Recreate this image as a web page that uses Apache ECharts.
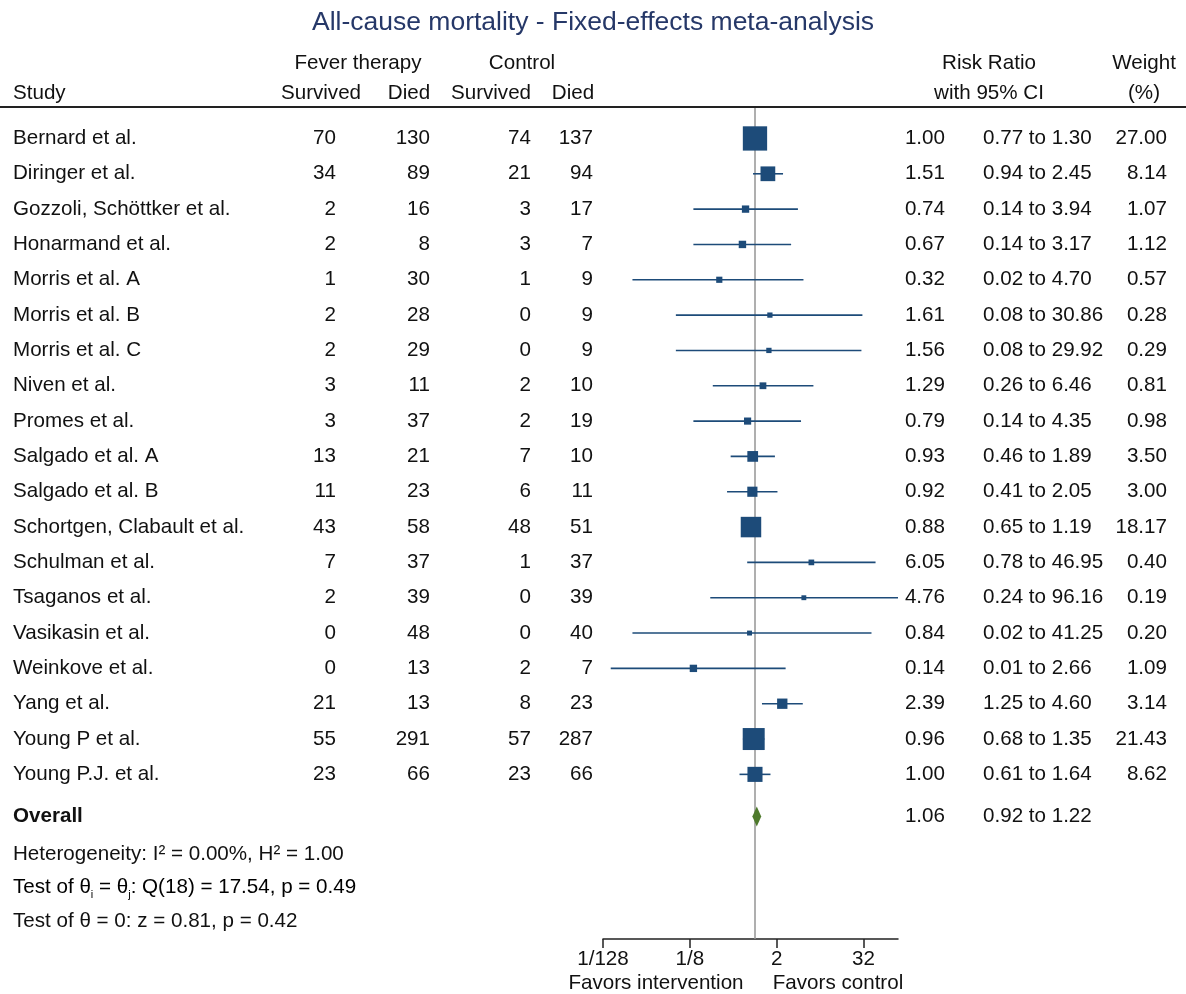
<!DOCTYPE html>
<html>
<head>
<meta charset="utf-8">
<title>All-cause mortality - Fixed-effects meta-analysis</title>
<script src="https://cdn.jsdelivr.net/npm/echarts@6/dist/echarts.min.js"></script>
<style>
  html, body { margin: 0; padding: 0; background: #ffffff; }
  #chart { width: 1186px; height: 994px; }
</style>
</head>
<body>
<div id="chart"></div>
<script>
// ---- Study data ----
const studies = [
  'Bernard et al.', 'Diringer et al.', 'Gozzoli, Schöttker et al.', 'Honarmand et al.',
  'Morris et al. A', 'Morris et al. B', 'Morris et al. C', 'Niven et al.', 'Promes et al.',
  'Salgado et al. A', 'Salgado et al. B', 'Schortgen, Clabault et al.', 'Schulman et al.',
  'Tsaganos et al.', 'Vasikasin et al.', 'Weinkove et al.', 'Yang et al.', 'Young P et al.',
  'Young P.J. et al.'
];
const feverSurvived   = [70, 34, 2, 2, 1, 2, 2, 3, 3, 13, 11, 43, 7, 2, 0, 0, 21, 55, 23];
const feverDied       = [130, 89, 16, 8, 30, 28, 29, 11, 37, 21, 23, 58, 37, 39, 48, 13, 13, 291, 66];
const controlSurvived = [74, 21, 3, 3, 1, 0, 0, 2, 2, 7, 6, 48, 1, 0, 0, 2, 8, 57, 23];
const controlDied     = [137, 94, 17, 7, 9, 9, 9, 10, 19, 10, 11, 51, 37, 39, 40, 7, 23, 287, 66];
const riskRatio = [1.00, 1.51, 0.74, 0.67, 0.32, 1.61, 1.56, 1.29, 0.79, 0.93, 0.92, 0.88, 6.05, 4.76, 0.84, 0.14, 2.39, 0.96, 1.00];
const ciLower   = [0.77, 0.94, 0.14, 0.14, 0.02, 0.08, 0.08, 0.26, 0.14, 0.46, 0.41, 0.65, 0.78, 0.24, 0.02, 0.01, 1.25, 0.68, 0.61];
const ciUpper   = [1.30, 2.45, 3.94, 3.17, 4.70, 30.86, 29.92, 6.46, 4.35, 1.89, 2.05, 1.19, 46.95, 96.16, 41.25, 2.66, 4.60, 1.35, 1.64];
const weightPct = [27.00, 8.14, 1.07, 1.12, 0.57, 0.28, 0.29, 0.81, 0.98, 3.50, 3.00, 18.17, 0.40, 0.19, 0.20, 1.09, 3.14, 21.43, 8.62];

// ---- Pooled estimate and test statistics ----
const overallRR = [1.06, 0.92, 1.22];   // estimate, lower, upper
const heterogeneityText = 'Heterogeneity: I² = 0.00%, H² = 1.00';
const axisTickRatios = ['1/128', '1/8', '2', '32'];

// ---- Layout ----
const FONT = '"Liberation Sans", Arial, Helvetica, sans-serif';
const FS = 20.6;
const TEXT = '#111111';
const BLUE = '#1d4b79';
const GREEN = '#4e7a2c';
const COL = { study: 13, fs: 336, fd: 430, cs: 531, cd: 593, rr: 945, ci: 983, wt: 1167 };
const ROW_OVERALL = studies.length + 0.19;
const ROW_HET = studies.length + 1.27;
const ROW_Q = studies.length + 2.21;
const ROW_Z = studies.length + 3.16;

const log2 = v => Math.log(v) / Math.LN2;
const parseRatio = s => s.indexOf('/') >= 0 ? 1 / Number(s.split('/')[1]) : Number(s);
const tickValues = axisTickRatios.map(s => log2(parseRatio(s)));
const fmt2 = v => v.toFixed(2);

function txt(x, y, text, align, extra) {
  return {
    type: 'text',
    style: Object.assign({
      x: x, y: y, text: text, textAlign: align || 'left', textVerticalAlign: 'middle',
      font: FS + 'px ' + FONT, fill: TEXT
    }, extra || {})
  };
}

function header(x, y, text, align) {
  return {
    type: 'text', x: x, y: y,
    style: { text: text, textAlign: align, textVerticalAlign: 'middle', font: FS + 'px ' + FONT, fill: TEXT }
  };
}

const chart = echarts.init(document.getElementById('chart'), null, { renderer: 'canvas' });

const option = {
  backgroundColor: '#ffffff',
  animation: false,
  title: {
    text: 'All-cause mortality - Fixed-effects meta-analysis',
    left: 'center',
    top: 4,
    textStyle: { fontFamily: FONT, fontSize: 26.5, fontWeight: 'normal', color: '#263868' }
  },
  grid: { left: 603, right: 288, top: 108, bottom: 55, containLabel: false },
  xAxis: {
    type: 'value',
    min: -7,
    max: log2(Math.max.apply(null, ciUpper)),
    interval: 1,
    position: 'bottom',
    axisLine: { show: true, onZero: false, lineStyle: { color: '#222', width: 1.5 } },
    axisTick: { show: true, length: 9, lineStyle: { color: '#222', width: 1.5 }, customValues: tickValues },
    axisLabel: {
      show: true, margin: 10, customValues: tickValues,
      fontFamily: FONT, fontSize: FS, color: TEXT,
      formatter: v => {
        const i = tickValues.findIndex(t => Math.abs(t - v) < 1e-9);
        return i >= 0 ? axisTickRatios[i] : '';
      }
    },
    splitLine: { show: false }
  },
  yAxis: {
    type: 'value', inverse: true, min: -0.862, max: 22.66, show: false,
    splitLine: { show: false }
  },
  graphic: [
    // column headers
    header(358, 63, 'Fever therapy', 'center'),
    header(522, 63, 'Control', 'center'),
    header(989, 63, 'Risk Ratio', 'center'),
    header(1144, 63, 'Weight', 'center'),
    header(COL.study, 93, 'Study', 'left'),
    header(321, 93, 'Survived', 'center'),
    header(409, 93, 'Died', 'center'),
    header(491, 93, 'Survived', 'center'),
    header(573, 93, 'Died', 'center'),
    header(989, 93, 'with 95% CI', 'center'),
    header(1144, 93, '(%)', 'center'),
    // rule under the header
    { type: 'line', shape: { x1: 0, y1: 107, x2: 1186, y2: 107 }, style: { stroke: '#222', lineWidth: 2 } },
    // direction captions under the axis
    header(656, 983, 'Favors intervention', 'center'),
    header(838, 983, 'Favors control', 'center')
  ],
  series: [
    {
      // table columns for each study, plus the line of no effect
      type: 'custom',
      name: 'table',
      clip: false,
      silent: true,
      z: 1,
      data: studies.map((s, i) => [0, i]),
      renderItem: function (params, api) {
        const i = params.dataIndex;
        const y = api.coord([0, i])[1];
        return {
          type: 'group',
          children: [
            txt(COL.study, y, studies[i], 'left'),
            txt(COL.fs, y, String(feverSurvived[i]), 'right'),
            txt(COL.fd, y, String(feverDied[i]), 'right'),
            txt(COL.cs, y, String(controlSurvived[i]), 'right'),
            txt(COL.cd, y, String(controlDied[i]), 'right'),
            txt(COL.rr, y, fmt2(riskRatio[i]), 'right'),
            txt(COL.ci, y, fmt2(ciLower[i]) + ' to ' + fmt2(ciUpper[i]), 'left'),
            txt(COL.wt, y, fmt2(weightPct[i]), 'right')
          ]
        };
      },
      markLine: {
        silent: true,
        symbol: 'none',
        label: { show: false },
        lineStyle: { color: '#959595', width: 1.5, type: 'solid' },
        data: [{ xAxis: 0 }]
      }
    },
    {
      // confidence intervals and weighted boxes
      type: 'custom',
      name: 'studies',
      clip: false,
      silent: true,
      z: 5,
      data: studies.map((s, i) => [log2(riskRatio[i]), i, log2(ciLower[i]), log2(ciUpper[i]), weightPct[i]]),
      encode: { x: [0, 2, 3], y: 1 },
      renderItem: function (params, api) {
        const c = api.coord([api.value(0), api.value(1)]);
        const lo = api.coord([api.value(2), api.value(1)]);
        const hi = api.coord([api.value(3), api.value(1)]);
        const side = 3.1 + 4.08 * Math.sqrt(api.value(4));
        return {
          type: 'group',
          children: [
            { type: 'line', shape: { x1: lo[0], y1: c[1], x2: hi[0], y2: c[1] }, style: { stroke: BLUE, lineWidth: 1.6 } },
            { type: 'rect', shape: { x: c[0] - side / 2, y: c[1] - side / 2, width: side, height: side }, style: { fill: BLUE } }
          ]
        };
      }
    },
    {
      // pooled estimate row and summary statistics
      type: 'custom',
      name: 'overall',
      clip: false,
      silent: true,
      z: 5,
      data: [[log2(overallRR[0]), ROW_OVERALL, log2(overallRR[1]), log2(overallRR[2])]],
      encode: { x: [0, 2, 3], y: 1 },
      renderItem: function (params, api) {
        const c = api.coord([api.value(0), api.value(1)]);
        const lo = api.coord([api.value(2), api.value(1)]);
        const hi = api.coord([api.value(3), api.value(1)]);
        const h = 10;
        const yHet = api.coord([0, ROW_HET])[1];
        const yQ = api.coord([0, ROW_Q])[1];
        const yZ = api.coord([0, ROW_Z])[1];
        return {
          type: 'group',
          children: [
            { type: 'polygon', shape: { points: [[lo[0], c[1]], [c[0], c[1] - h], [hi[0], c[1]], [c[0], c[1] + h]] }, style: { fill: GREEN } },
            txt(COL.study, c[1], 'Overall', 'left', { font: 'bold ' + FS + 'px ' + FONT }),
            txt(COL.rr, c[1], fmt2(overallRR[0]), 'right'),
            txt(COL.ci, c[1], fmt2(overallRR[1]) + ' to ' + fmt2(overallRR[2]), 'left'),
            txt(COL.study, yHet, heterogeneityText, 'left'),
            {
              type: 'text',
              style: {
                x: COL.study, y: yQ, textAlign: 'left', textVerticalAlign: 'middle',
                text: '{n|Test of θ}{s|i}{n| = θ}{s|j}{n|: Q(18) = 17.54, p = 0.49}',
                rich: {
                  n: { fontFamily: FONT, fontSize: FS, color: TEXT, lineHeight: 26 },
                  s: { fontFamily: FONT, fontSize: 11, color: TEXT, lineHeight: 12, verticalAlign: 'bottom' }
                }
              }
            },
            txt(COL.study, yZ, 'Test of θ = 0: z = 0.81, p = 0.42', 'left')
          ]
        };
      }
    }
  ]
};

chart.setOption(option);
</script>
</body>
</html>
